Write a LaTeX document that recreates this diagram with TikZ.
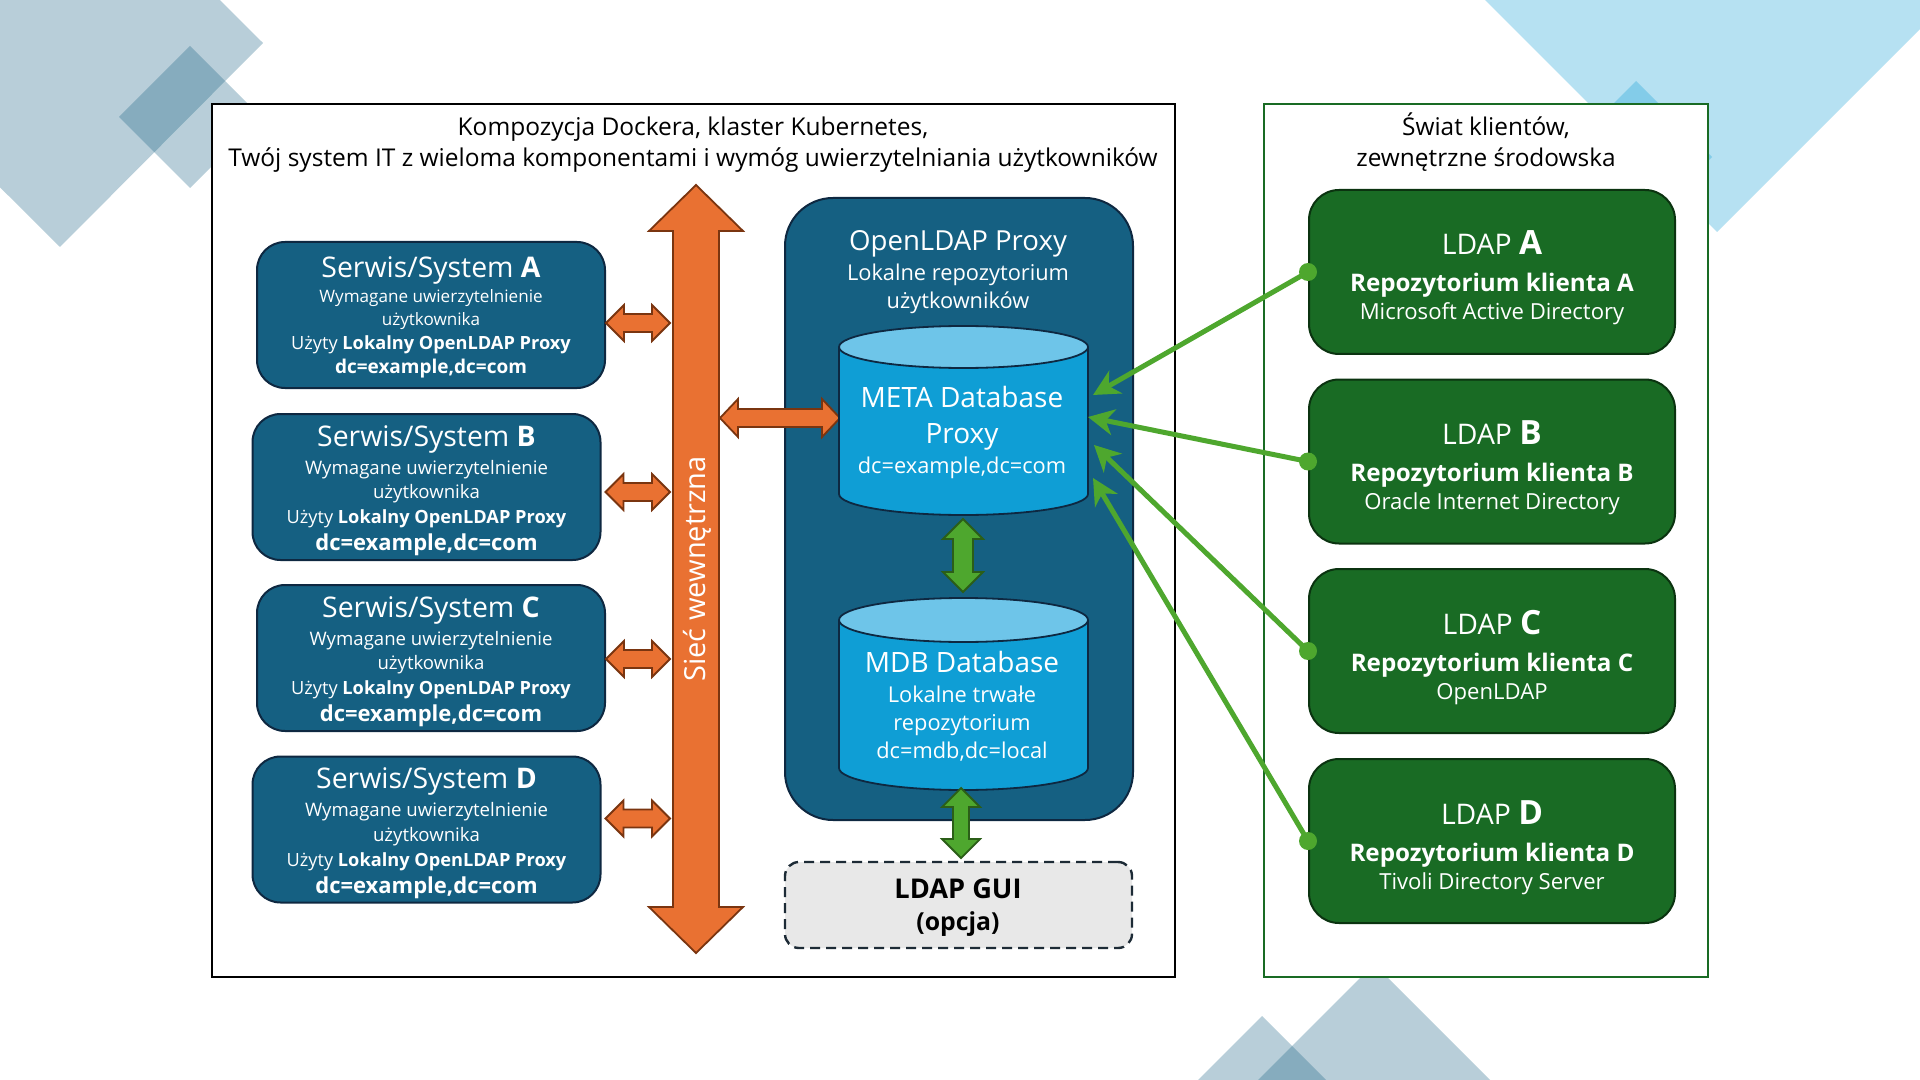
\documentclass[tikz,border=0pt]{standalone}
\usepackage{fontspec}
\setmainfont{Open Sans}
\usetikzlibrary{calc,arrows.meta}
\definecolor{dblue}{HTML}{156082}
\definecolor{navy}{HTML}{0E2841}
\definecolor{orng}{HTML}{E97132}
\definecolor{orngd}{HTML}{7A3510}
\definecolor{gbox}{HTML}{196B24}
\definecolor{gboxd}{HTML}{0B3310}
\definecolor{cyanA}{HTML}{0F9ED5}
\definecolor{cyanB}{HTML}{6EC5E9}
\definecolor{lgreen}{HTML}{4EA72E}
\definecolor{lgreend}{HTML}{2B5E18}
\definecolor{guifill}{HTML}{E8E8E8}
\definecolor{guiedge}{HTML}{1D2B36}
% horizontal fat double arrow: style, left tip, right ref, shaft half, head half, head length
\newcommand\HDArrow[6]{%
  \draw[#1] (#2) -- ($(#2)+(#6,-#5)$) -- ($(#2)+(#6,-#4)$) -- ($(#2 -| #3)+(-#6,-#4)$) --
  ($(#2 -| #3)+(-#6,-#5)$) -- (#2 -| #3) -- ($(#2 -| #3)+(-#6,#5)$) -- ($(#2 -| #3)+(-#6,#4)$) --
  ($(#2)+(#6,#4)$) -- ($(#2)+(#6,#5)$) -- cycle;}
% vertical fat double arrow: style, top tip, bottom ref, shaft half, head half, head length
\newcommand\VDArrow[6]{%
  \draw[#1] (#2) -- ($(#2)+(#5,#6)$) -- ($(#2)+(#4,#6)$) -- ($(#3 -| #2)+(#4,-#6)$) --
  ($(#3 -| #2)+(#5,-#6)$) -- (#3 -| #2) -- ($(#3 -| #2)+(-#5,-#6)$) -- ($(#3 -| #2)+(-#4,-#6)$) --
  ($(#2)+(-#4,#6)$) -- ($(#2)+(-#5,#6)$) -- cycle;}
% cylinder: name, cx, ytop, ybottom, ry(pt)
\newcommand\dbcyl[5]{%
  \filldraw[cylbody] (#2,#4) ellipse [x radius=62.25pt, y radius=#5pt];
  \fill[cyanA] (#2-124.5,#3) rectangle (#2+124.5,#4);
  \draw[cyledge] (#2-124.5,#3) -- (#2-124.5,#4) (#2+124.5,#3) -- (#2+124.5,#4);
  \filldraw[cyltop] (#2,#3) ellipse [x radius=62.25pt, y radius=#5pt];
  \coordinate (#1) at (#2,{(#3+#4)/2});}
\begin{document}
\begin{tikzpicture}[x=0.5pt,y=-0.5pt,
  bgA/.style={fill=dblue, fill opacity=0.3},
  bgB/.style={fill=cyanA, fill opacity=0.3},
  outerL/.style={draw=black, line width=1.3pt, fill=white, inner sep=0pt},
  outerR/.style={draw=gbox, line width=1.1pt, fill=white, inner sep=0pt},
  svc/.style={draw=navy, line width=1pt, fill=dblue, rounded corners=14pt, inner sep=0pt,
    minimum width=174pt, minimum height=73pt},
  lbox/.style={draw=gboxd, line width=1pt, fill=gbox, rounded corners=15pt, inner sep=0pt,
    minimum width=183pt, minimum height=82pt},
  oarr/.style={fill=orng, draw=orngd, line width=0.9pt},
  garr/.style={fill=lgreen, draw=lgreend, line width=0.9pt},
  cylbody/.style={fill=cyanA, draw=navy, line width=0.9pt},
  cyltop/.style={fill=cyanB, draw=navy, line width=0.9pt},
  cyledge/.style={draw=navy, line width=0.9pt},
  tx/.style={anchor=base, inner sep=0pt, text=white},
  tk/.style={anchor=base, inner sep=0pt, text=black},
  fs/.style={font=\fontsize{#1pt}{#1pt}\selectfont},
  conn/.style={draw=lgreen, line width=2.5pt, -{Stealth[length=13pt,width=13pt,inset=4pt]}},
]
\useasboundingbox (0,0) rectangle (1920,1080);
\clip (0,0) rectangle (1920,1080);
\fill[white] (0,0) rectangle (1920,1080);
% background decoration
\fill[bgA] (59,-160) -- (263,43) -- (60,247) -- (-144,44) -- cycle;
\fill[bgA] (190,46) -- (261,117) -- (190,188) -- (119,117) -- cycle;
\fill[bgB] (1717,232) -- (2017,-68) -- (1717,-368) -- (1417,-68) -- cycle;
\fill[bgB] (1636,81) -- (1712,157) -- (1636,233) -- (1560,157) -- cycle;
\fill[bgA] (1374,964) -- (1574,1164) -- (1374,1364) -- (1174,1164) -- cycle;
\fill[bgA] (1262,1016) -- (1362,1116) -- (1262,1216) -- (1162,1116) -- cycle;
% outer frames
\node[outerL, minimum width=481.5pt, minimum height=436.5pt] (outL) at (693.5,540.5) {};
\node[outerR, minimum width=222pt, minimum height=436.5pt] (outR) at (1486,540.5) {};
\node[tk, fs=12.25] (titL1) at (693,135.5) {Kompozycja Dockera, klaster Kubernetes,};
\node[tk, fs=12.25] (titL2) at (693,166.5) {Twój system IT z wieloma komponentami i wymóg uwierzytelniania użytkowników};
\node[tk, fs=12.2] (titR1) at (1486,135.5) {Świat klientów,};
\node[tk, fs=12.2] (titR2) at (1486,166.5) {zewnętrzne środowska};
% service boxes
\node[svc] (sA) at (431,315) {};
\node[svc] (sB) at (426.5,487) {};
\node[svc] (sC) at (431,658) {};
\node[svc] (sD) at (426.5,829.5) {};
\node[tx, fs=14.2] (sA1) at ($(sA.center)+(0,-37)$) {Serwis/System \textbf{A}};
\node[tx, fs=8.55] (sA2) at ($(sA.center)+(0,-12.4)$) {Wymagane uwierzytelnienie};
\node[tx, fs=8.55] (sA3) at ($(sA.center)+(0,10.6)$) {użytkownika};
\node[tx, fs=9.1] (sA4) at ($(sA.center)+(0,34.5)$) {Użyty \textbf{Lokalny OpenLDAP Proxy}};
\node[tx, fs=9.5] (sA5) at ($(sA.center)+(0,58.7)$) {\textbf{dc=example,dc=com}};
\foreach \b/\l in {sB/B,sC/C,sD/D}{
  \node[tx, fs=14.2] (\b1) at ($(\b.center)+(0,-40.7)$) {Serwis/System \textbf{\l}};
  \node[tx, fs=9.3] (\b2) at ($(\b.center)+(0,-12.7)$) {Wymagane uwierzytelnienie};
  \node[tx, fs=9.3] (\b3) at ($(\b.center)+(0,11.6)$) {użytkownika};
  \node[tx, fs=9.1] (\b4) at ($(\b.center)+(0,36.6)$) {Użyty \textbf{Lokalny OpenLDAP Proxy}};
  \node[tx, fs=11] (\b5) at ($(\b.center)+(0,63.5)$) {\textbf{dc=example,dc=com}};
}
% internal network bus
\coordinate (busT) at (696,185);
\coordinate (busB) at (696,953);
\coordinate (busL) at (670,0);
\VDArrow{oarr}{busT}{busB}{23}{47}{46}
\node[rotate=90, text=white, fs=14.5, inner sep=0pt] (busTxt) at (697,569) {Sieć wewnętrzna};
\coordinate (aA) at ($(sA.east)+(0,8)$);
\coordinate (aB) at ($(sB.east)+(4,5)$);
\coordinate (aC) at ($(sC.east)+(0,1)$);
\coordinate (aD) at ($(sD.east)+(4,-11)$);
\HDArrow{oarr}{aA}{busL}{9}{18}{18}
\HDArrow{oarr}{aB}{busL}{9}{18}{18}
\HDArrow{oarr}{aC}{busL}{9}{18}{18}
\HDArrow{oarr}{aD}{busL}{9}{18}{18}
% OpenLDAP proxy
\node[draw=navy, line width=1pt, fill=dblue, rounded corners=24pt, inner sep=0pt,
  minimum width=174pt, minimum height=311pt] (proxy) at (959,509) {};
\node[tx, fs=13.8] (px1) at (958,250.9) {OpenLDAP Proxy};
\node[tx, fs=10.9] (px2) at (958,280.6) {Lokalne repozytorium};
\node[tx, fs=10.9] (px3) at (958,308.6) {użytkowników};
\coordinate (mL) at (720,418);
\coordinate (metaW) at (840,418);
\HDArrow{oarr}{mL}{metaW}{9}{19}{18}
\dbcyl{meta}{963.5}{347}{494}{10.5}
\node[tx, fs=14] (mt1) at (962,407) {META Database};
\node[tx, fs=14] (mt2) at (962,443) {Proxy};
\node[tx, fs=10.9] (mt3) at (962,473.5) {dc=example,dc=com};
\dbcyl{mdb}{963.5}{620}{768}{11}
\node[tx, fs=14] (md1) at (962,672) {MDB Database};
\node[tx, fs=10.9] (md2) at (962,702) {Lokalne trwałe};
\node[tx, fs=10.9] (md3) at (962,730) {repozytorium};
\node[tx, fs=10.9] (md4) at (962,758) {dc=mdb,dc=local};
\coordinate (mBot) at (963,519);
\coordinate (mdbTop) at (963,592);
\VDArrow{garr}{mBot}{mdbTop}{10}{20}{20}
% LDAP GUI
\node[draw=guiedge, dash pattern=on 5pt off 3pt, line width=1.2pt, fill=guifill, rounded corners=7pt,
  inner sep=0pt, minimum width=173.5pt, minimum height=43pt] (gui) at (958.5,905) {};
\node[tk, fs=13.6] (g1) at (958,898) {\textbf{LDAP GUI}};
\node[tk, fs=12.4] (g2) at (958,930) {\textbf{(opcja)}};
\coordinate (mdbBot) at (961,788);
\coordinate (guiTop) at (961,858);
\VDArrow{garr}{mdbBot}{guiTop}{8}{19}{19}
% client LDAP boxes
\node[lbox] (lA) at (1492,272) {};
\node[lbox] (lB) at (1492,461.5) {};
\node[lbox] (lC) at (1492,651) {};
\node[lbox] (lD) at (1492,841) {};
\foreach \b/\l/\s in {lA/A/Microsoft Active Directory,lB/B/Oracle Internet Directory,lC/C/OpenLDAP,lD/D/Tivoli Directory Server}{
  \node[tx, fs=14.2] (\b1) at ($(\b.center)+(0,-17)$) {LDAP {\fontsize{16.7pt}{16.7pt}\selectfont\textbf{\l}}};
  \node[tx, fs=12.1] (\b2) at ($(\b.center)+(0,20)$) {\textbf{Repozytorium klienta \l}};
  \node[tx, fs=11.05] (\b3) at ($(\b.center)+(0,48)$) {\s};
}
% connectors
\coordinate (mA) at (1093,395);
\coordinate (mB) at (1088,417);
\coordinate (mC) at (1094,445);
\coordinate (mD) at (1093,478);
\draw[conn] (lA.west) -- (mA);
\draw[conn] (lB.west) -- (mB);
\draw[conn] (lC.west) -- (mC);
\draw[conn] (lD.west) -- (mD);
\fill[lgreen] (lA.west) circle (4.5pt);
\fill[lgreen] (lB.west) circle (4.5pt);
\fill[lgreen] (lC.west) circle (4.5pt);
\fill[lgreen] (lD.west) circle (4.5pt);
\end{tikzpicture}
\end{document}
